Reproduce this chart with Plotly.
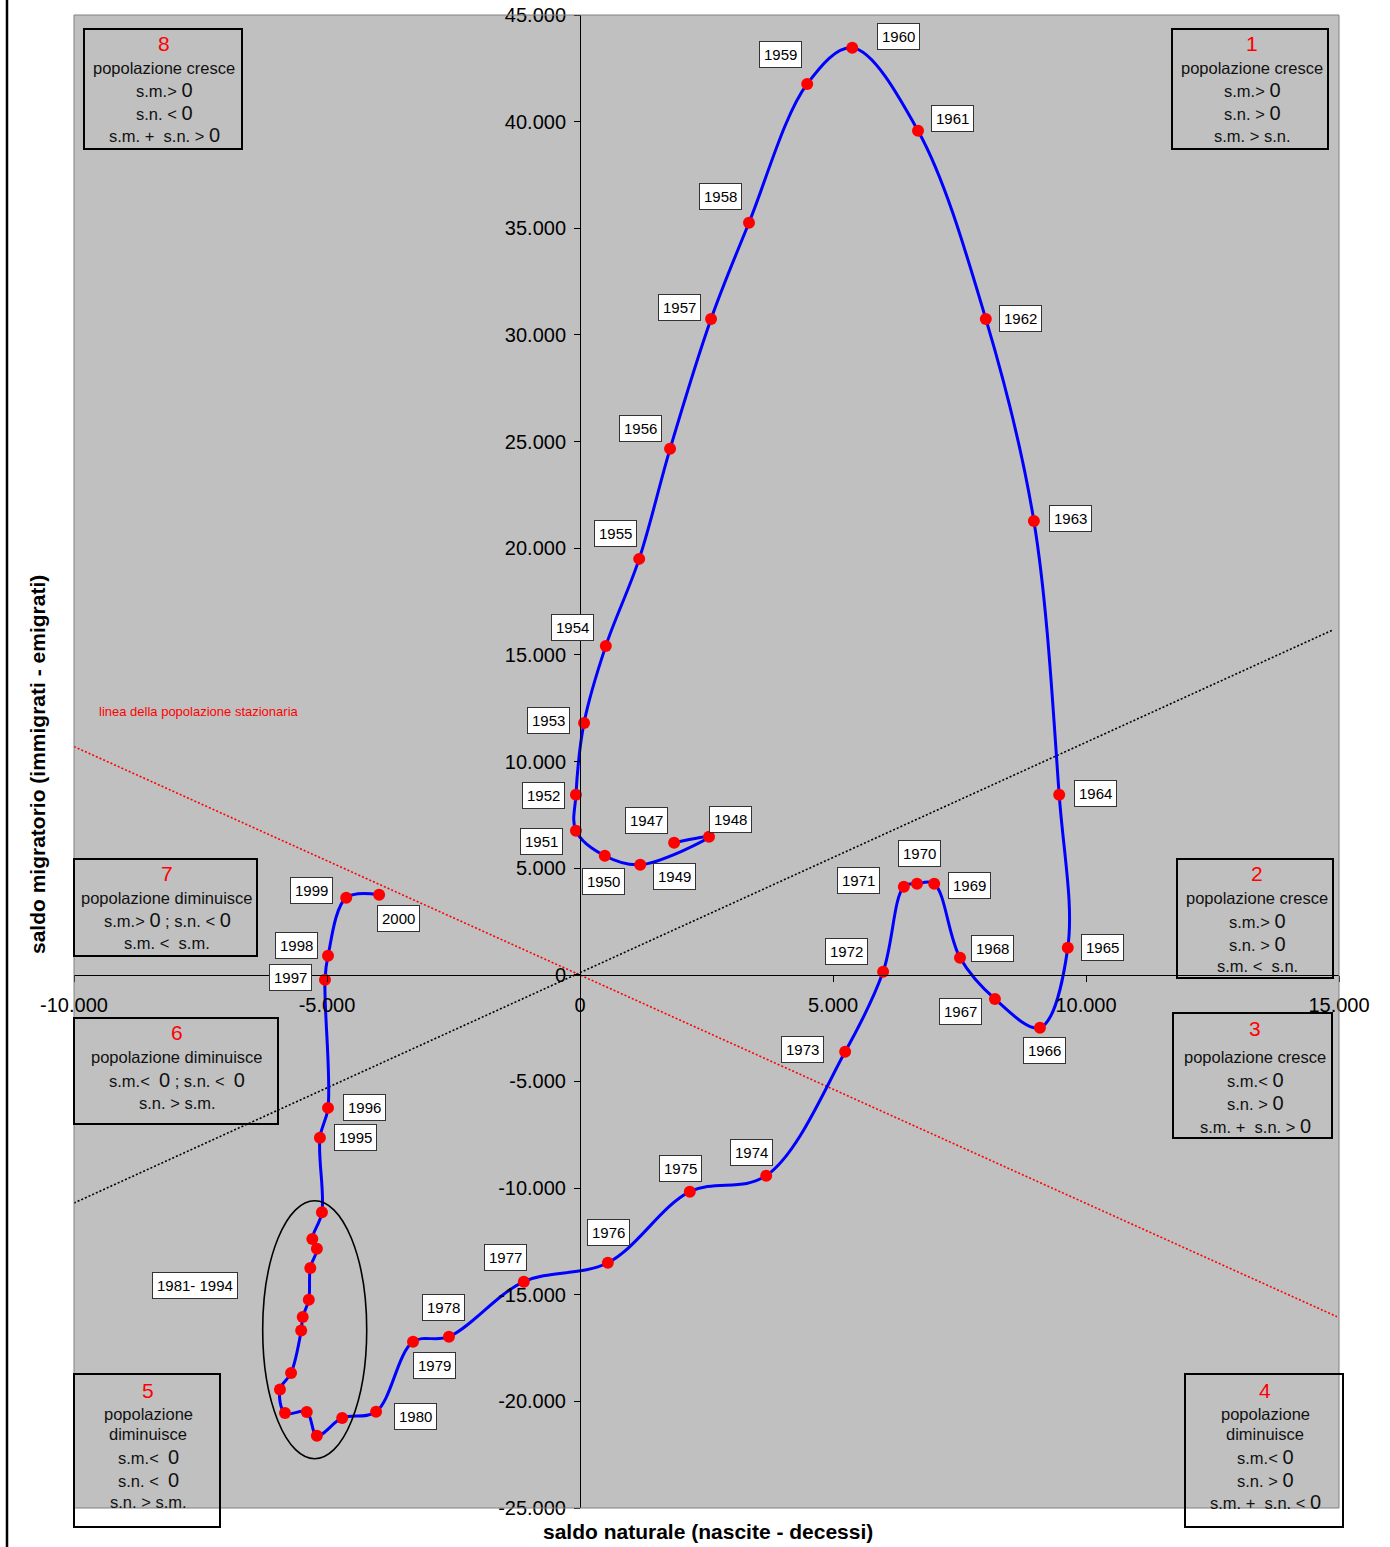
import plotly.graph_objects as go

# ---------------- data ----------------
years = [1947, 1948, 1949, 1950, 1951, 1952, 1953, 1954, 1955, 1956, 1957, 1958,
         1959, 1960, 1961, 1962, 1963, 1964, 1965, 1966, 1967, 1968, 1969, 1970,
         1971, 1972, 1973, 1974, 1975, 1976, 1977, 1978, 1979, 1980,
         1981, 1982, 1983, 1984, 1985, 1986, 1987, 1988, 1989, 1990, 1991, 1992, 1993,
         1995, 1996, 1997, 1998, 1999, 2000]
saldo_naturale = [1860, 2550, 1190, 490, -80, -80, 80, 510, 1170, 1780, 2590, 3340,
                  4490, 5380, 6680, 8020, 8970, 9470, 9640, 9090, 8200, 7510, 7000, 6660,
                  6400, 5990, 5240, 3680, 2170, 550, -1110, -2590, -3300, -4030,
                  -4700, -5200, -5400, -5830, -5930, -5710, -5510, -5480, -5360, -5330, -5200, -5290, -5100,
                  -5140, -4980, -5040, -4980, -4620, -3970]
saldo_migratorio = [6190, 6470, 5160, 5580, 6750, 8440, 11810, 15420, 19500, 24660, 30750, 35260,
                    41770, 43460, 39570, 30750, 21280, 8440, 1270, -2480, -1130, 800, 4270, 4270,
                    4130, 140, -3610, -9420, -10170, -13500, -14390, -16970, -17210, -20490,
                    -20780, -21610, -20500, -20550, -19440, -18670, -16680, -16050, -15240, -13750, -12850, -12390, -11130,
                    -7640, -6240, -230, 890, 3610, 3750]
cluster_label = "1981- 1994"

x_ticks = [-10000, -5000, 0, 5000, 10000, 15000]
y_ticks = [-25000, -20000, -15000, -10000, -5000, 0, 5000, 10000, 15000,
           20000, 25000, 30000, 35000, 40000, 45000]

# guide lines (s.m. = s.n. and s.m. + s.n. = 0 as drawn)
diag_x = [-10000, 14880]
diag_y = [-10700, 16170]
staz_x = [-10000, 14960]
staz_y = [10700, -16030]

# ellipse around 1981-1994
ell_x = [-6271, -4215]
ell_y = [-22691, -10595]

quadrants = [
    ("8", ["popolazione cresce", "s.m.> 0", "s.n. < 0", "s.m. +  s.n. > 0"]),
    ("1", ["popolazione cresce", "s.m.> 0", "s.n. > 0", "s.m. > s.n."]),
    ("7", ["popolazione diminuisce", "s.m.> 0 ; s.n. < 0", "s.m. <  s.m."]),
    ("2", ["popolazione cresce", "s.m.> 0", "s.n. > 0", "s.m. <  s.n."]),
    ("6", ["popolazione diminuisce", "s.m.<  0 ; s.n. <  0", "s.n. > s.m."]),
    ("3", ["popolazione cresce", "s.m.< 0", "s.n. > 0", "s.m. +  s.n. > 0"]),
    ("5", ["popolazione", "diminuisce", "s.m.<  0", "s.n. <  0", "s.n. > s.m."]),
    ("4", ["popolazione", "diminuisce", "s.m.< 0", "s.n. > 0", "s.m. +  s.n. < 0"]),
]

# ---------------- layout helpers (pixel geometry) ----------------
W, H = 1390, 1547
L, R, T, B = 74, 1339, 15, 1508
FONT = "Liberation Sans, Arial, sans-serif"


def px(xp):
    return (xp - L) / (R - L)


def py(yp):
    return (B - yp) / (B - T)


def big_zero(txt):
    # the reference shows the digit 0 (and comparison signs) a bit larger
    out = txt.replace("0", "<span style='font-size:20px'>0</span>")
    return out


# label offsets in pixels (dx right, dy down) relative to each point
label_off = {
    1947: (-28, -22), 1948: (21, -17), 1949: (34, 12), 1950: (-1, 26),
    1951: (-34, 11), 1952: (-32, 1), 1953: (-36, -2), 1954: (-33, -18),
    1955: (-24, -25), 1956: (-30, -20), 1957: (-32, -11), 1958: (-29, -26),
    1959: (-27, -29), 1960: (46, -11), 1961: (34, -12), 1962: (35, 0),
    1963: (37, -2), 1964: (36, -1), 1965: (35, 0), 1966: (5, 23),
    1967: (-34, 13), 1968: (32, -9), 1969: (35, 2), 1970: (2, -30),
    1971: (-45, -6), 1972: (-37, -20), 1973: (-43, -2), 1974: (-15, -23),
    1975: (-9, -23), 1976: (1, -30), 1977: (-18, -24), 1978: (-5, -29),
    1979: (21, 24), 1980: (39, 5), 1995: (36, 0), 1996: (36, 0),
    1997: (-34, -2), 1998: (-32, -10), 1999: (-35, -7), 2000: (19, 24),
}

# quadrant box geometry: (left, top, right, bottom, center x, number y, line ys)
box_geom = [
    (84, 29, 242, 149, 164, 43, [68, 90, 113, 135]),
    (1172, 29, 1328, 149, 1252, 43, [68, 90, 113, 136]),
    (74, 859, 257, 956, 167, 873, [898, 920, 943]),
    (1177, 859, 1333, 978, 1257, 873, [898, 921, 944, 966]),
    (74, 1018, 278, 1124, 177, 1032, [1057, 1080, 1103]),
    (1173, 1013, 1332, 1138, 1255, 1028, [1057, 1080, 1103, 1126]),
    (74, 1374, 220, 1527, 148, 1390, [1414, 1434, 1457, 1480, 1502]),
    (1185, 1374, 1343, 1527, 1265, 1390, [1414, 1434, 1457, 1480, 1502]),
]

fig = go.Figure()

# guide lines
fig.add_trace(go.Scatter(x=diag_x, y=diag_y, mode="lines",
                         line=dict(color="black", width=1.6, dash="2px,2px"),
                         hoverinfo="skip", showlegend=False))
fig.add_trace(go.Scatter(x=staz_x, y=staz_y, mode="lines",
                         line=dict(color="#FF0000", width=1.6, dash="2px,2px"),
                         hoverinfo="skip", showlegend=False))

# main trajectory
fig.add_trace(go.Scatter(x=saldo_naturale, y=saldo_migratorio, mode="lines+markers",
                         line=dict(color="#0000FF", width=3, shape="spline", smoothing=1.0),
                         marker=dict(color="#FF0000", size=12, line=dict(width=0)),
                         text=[str(y) for y in years], hoverinfo="text+x+y",
                         showlegend=False, cliponaxis=False))

annotations = []
for yr, xv, yv in zip(years, saldo_naturale, saldo_migratorio):
    if yr in label_off:
        dx, dy = label_off[yr]
        annotations.append(dict(
            x=xv, y=yv, xref="x", yref="y", text=str(yr), showarrow=False,
            xshift=dx, yshift=-dy, xanchor="center", yanchor="middle",
            font=dict(family=FONT, size=15, color="black"),
            bgcolor="white", bordercolor="#333333", borderwidth=1, borderpad=4))

# cluster label
annotations.append(dict(
    x=(195 - 580) / 50.6 * 1000, y=(975 - 1286) / 21.33 * 1000, xref="x", yref="y",
    text=cluster_label, showarrow=False, xanchor="center", yanchor="middle",
    font=dict(family=FONT, size=15, color="black"),
    bgcolor="white", bordercolor="#333333", borderwidth=1, borderpad=4))

shapes = []
# plot area border
shapes.append(dict(type="rect", xref="paper", yref="paper", x0=0, x1=1, y0=0, y1=1,
                   line=dict(color="#808080", width=1), layer="above"))
# left vertical black rule
shapes.append(dict(type="line", xref="paper", yref="paper", x0=px(7), x1=px(7),
                   y0=py(0), y1=py(H), line=dict(color="black", width=2.5)))
# ellipse
shapes.append(dict(type="circle", xref="x", yref="y", x0=ell_x[0], x1=ell_x[1],
                   y0=ell_y[0], y1=ell_y[1], line=dict(color="black", width=1.6)))

for (num, lines), (l, t, r, b, cx, ny, lys) in zip(quadrants, box_geom):
    shapes.append(dict(type="rect", xref="paper", yref="paper",
                       x0=px(l), x1=px(r), y0=py(b), y1=py(t),
                       line=dict(color="black", width=2), fillcolor="rgba(0,0,0,0)",
                       layer="above"))
    annotations.append(dict(x=px(cx), y=py(ny), xref="paper", yref="paper", text=num,
                            showarrow=False, xanchor="center", yanchor="middle",
                            font=dict(family=FONT, size=21, color="#FF0000")))
    for txt, ly in zip(lines, lys):
        annotations.append(dict(x=px(cx), y=py(ly), xref="paper", yref="paper",
                                text=big_zero(txt), showarrow=False, xanchor="center",
                                yanchor="middle",
                                font=dict(family=FONT, size=16.5, color="#111111")))

# stationary line label
annotations.append(dict(x=px(198.5), y=py(711.5), xref="paper", yref="paper",
                        text="linea della popolazione stazionaria", showarrow=False,
                        xanchor="center", yanchor="middle",
                        font=dict(family=FONT, size=13, color="#FF0000")))

# axis titles
annotations.append(dict(x=px(707.5), y=py(1531), xref="paper", yref="paper",
                        text="<b>saldo naturale (nascite - decessi)</b>", showarrow=False,
                        xanchor="center", yanchor="middle",
                        font=dict(family=FONT, size=21, color="black")))
annotations.append(dict(x=px(37), y=py(765), xref="paper", yref="paper",
                        text="<b>saldo migratorio (immigrati - emigrati)</b>", showarrow=False,
                        textangle=-90, xanchor="center", yanchor="middle",
                        font=dict(family=FONT, size=21, color="black")))


def fmt(v):
    return f"{v:,}".replace(",", ".")


fig.update_layout(
    width=W, height=H, autosize=False,
    margin=dict(l=L, r=W - R, t=T, b=H - B, pad=0, autoexpand=False),
    paper_bgcolor="white", plot_bgcolor="#C0C0C0",
    font=dict(family=FONT, size=20, color="black"),
    showlegend=False,
    xaxis=dict(range=[x_ticks[0], x_ticks[-1]], tickvals=x_ticks,
               ticktext=[fmt(v) for v in x_ticks], showgrid=False, zeroline=False,
               showline=True, linecolor="black", linewidth=1,
               ticks="outside", ticklen=6, tickcolor="black", tickwidth=1,
               anchor="free", position=(0 - y_ticks[0]) / (y_ticks[-1] - y_ticks[0]),
               automargin=False,
               ticklabelstandoff=6, tickfont=dict(size=20, family=FONT)),
    yaxis=dict(range=[y_ticks[0], y_ticks[-1]], tickvals=y_ticks,
               ticktext=[fmt(v) for v in y_ticks], showgrid=False, zeroline=False,
               showline=True, linecolor="black", linewidth=1,
               ticks="outside", ticklen=6, tickcolor="black", tickwidth=1,
               anchor="free", position=(0 - x_ticks[0]) / (x_ticks[-1] - x_ticks[0]),
               automargin=False, autoshift=False,
               ticklabelstandoff=4, tickfont=dict(size=20, family=FONT)),
    shapes=shapes,
    annotations=annotations,
)

fig.write_html("out.html", config={"displayModeBar": False},
               post_script="document.body.style.margin='0';")
